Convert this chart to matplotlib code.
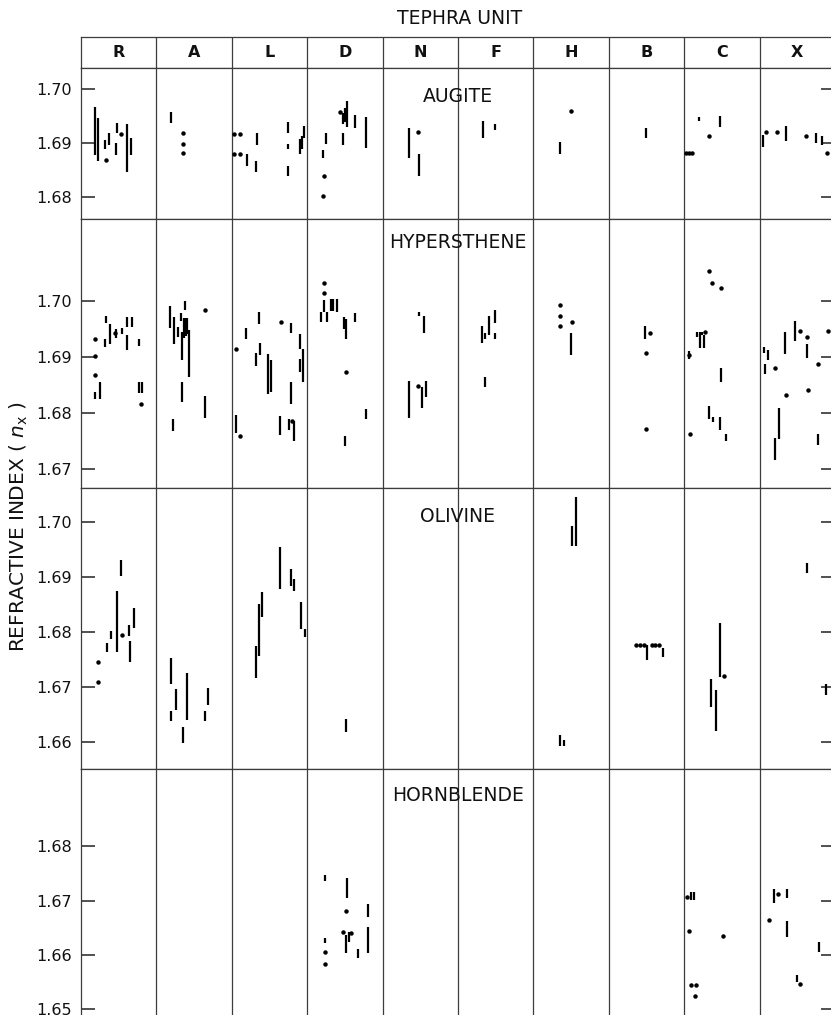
import matplotlib
matplotlib.use('Agg')
import matplotlib.pyplot as plt

# ---------------- data ----------------
units = ['R', 'A', 'L', 'D', 'N', 'F', 'H', 'B', 'C', 'X']
minerals = ['AUGITE', 'HYPERSTHENE', 'OLIVINE', 'HORNBLENDE']

# segments: (unit, position within unit column, low n_x, high n_x)
augite_seg = [
    ('R', 0.18, 1.6878, 1.6966), ('R', 0.22, 1.6866, 1.6946), ('R', 0.32, 1.6889, 1.6906),
    ('R', 0.37, 1.6897, 1.6919), ('R', 0.46, 1.6877, 1.6900), ('R', 0.48, 1.6919, 1.6937),
    ('R', 0.61, 1.6846, 1.6935), ('R', 0.66, 1.6878, 1.6909),
    ('A', 0.19, 1.6937, 1.6957),
    ('L', 0.20, 1.6858, 1.6880), ('L', 0.32, 1.6847, 1.6867), ('L', 0.34, 1.6896, 1.6918),
    ('L', 0.75, 1.6919, 1.6938), ('L', 0.75, 1.6888, 1.6898), ('L', 0.75, 1.6838, 1.6857),
    ('L', 0.90, 1.6880, 1.6907), ('L', 0.93, 1.6888, 1.6912), ('L', 0.96, 1.6909, 1.6932),
    ('D', 0.21, 1.6872, 1.6887), ('D', 0.25, 1.6898, 1.6919), ('D', 0.47, 1.6935, 1.6955),
    ('D', 0.47, 1.6896, 1.6918), ('D', 0.50, 1.6938, 1.6964), ('D', 0.53, 1.6929, 1.6977),
    ('D', 0.63, 1.6927, 1.6952), ('D', 0.78, 1.6890, 1.6949),
    ('N', 0.35, 1.6872, 1.6927), ('N', 0.48, 1.6839, 1.6880),
    ('F', 0.33, 1.6909, 1.6940), ('F', 0.49, 1.6924, 1.6936),
    ('H', 0.35, 1.6880, 1.6901),
    ('B', 0.49, 1.6910, 1.6928),
    ('C', 0.20, 1.6941, 1.6949), ('C', 0.47, 1.6930, 1.6950),
    ('X', 0.05, 1.6893, 1.6915), ('X', 0.35, 1.6904, 1.6931), ('X', 0.75, 1.6900, 1.6919),
    ('X', 0.83, 1.6896, 1.6912),
]
augite_dot = [
    ('R', 0.33, 1.6868), ('R', 0.53, 1.6917),
    ('A', 0.35, 1.6919), ('A', 0.35, 1.6899), ('A', 0.35, 1.6881),
    ('L', 0.03, 1.6916), ('L', 0.11, 1.6916), ('L', 0.03, 1.6879), ('L', 0.11, 1.6879),
    ('D', 0.22, 1.6839), ('D', 0.21, 1.6801), ('D', 0.43, 1.6958),
    ('N', 0.47, 1.6921),
    ('H', 0.50, 1.6959),
    ('C', 0.02, 1.6881), ('C', 0.06, 1.6881), ('C', 0.10, 1.6881), ('C', 0.33, 1.6912),
    ('X', 0.09, 1.6921), ('X', 0.23, 1.6921), ('X', 0.62, 1.6912), ('X', 0.90, 1.6881),
]

hypersthene_seg = [
    ('R', 0.18, 1.6826, 1.6837), ('R', 0.25, 1.6826, 1.6855), ('R', 0.32, 1.6918, 1.6931),
    ('R', 0.33, 1.6960, 1.6972), ('R', 0.39, 1.6923, 1.6959), ('R', 0.47, 1.6933, 1.6950),
    ('R', 0.54, 1.6941, 1.6951), ('R', 0.61, 1.6953, 1.6970), ('R', 0.67, 1.6953, 1.6970),
    ('R', 0.61, 1.6912, 1.6939), ('R', 0.77, 1.6919, 1.6931), ('R', 0.77, 1.6836, 1.6856),
    ('R', 0.81, 1.6836, 1.6856),
    ('A', 0.18, 1.6951, 1.6990), ('A', 0.22, 1.6768, 1.6790), ('A', 0.23, 1.6923, 1.6970),
    ('A', 0.28, 1.6935, 1.6953), ('A', 0.32, 1.6964, 1.6978), ('A', 0.34, 1.6895, 1.6944),
    ('A', 0.34, 1.6819, 1.6855), ('A', 0.36, 1.6933, 1.6969), ('A', 0.38, 1.6984, 1.7000),
    ('A', 0.39, 1.6937, 1.6969), ('A', 0.40, 1.6940, 1.6969), ('A', 0.43, 1.6864, 1.6947),
    ('A', 0.65, 1.6791, 1.6831),
    ('L', 0.06, 1.6765, 1.6797), ('L', 0.19, 1.6932, 1.6951), ('L', 0.32, 1.6883, 1.6907),
    ('L', 0.36, 1.6959, 1.6980), ('L', 0.37, 1.6903, 1.6925), ('L', 0.48, 1.6834, 1.6905),
    ('L', 0.52, 1.6837, 1.6895), ('L', 0.64, 1.6761, 1.6795), ('L', 0.76, 1.6770, 1.6790),
    ('L', 0.83, 1.6750, 1.6786), ('L', 0.78, 1.6943, 1.6960), ('L', 0.78, 1.6816, 1.6856),
    ('L', 0.91, 1.6914, 1.6941), ('L', 0.91, 1.6874, 1.6896), ('L', 0.95, 1.6855, 1.6914),
    ('D', 0.18, 1.6962, 1.6980), ('D', 0.22, 1.6980, 1.7001), ('D', 0.26, 1.6962, 1.6980),
    ('D', 0.32, 1.6982, 1.7003), ('D', 0.34, 1.6982, 1.7003), ('D', 0.40, 1.6980, 1.7002),
    ('D', 0.49, 1.6950, 1.6970), ('D', 0.51, 1.6931, 1.6967), ('D', 0.50, 1.6742, 1.6759),
    ('D', 0.64, 1.6962, 1.6978), ('D', 0.78, 1.6790, 1.6807),
    ('N', 0.35, 1.6791, 1.6858), ('N', 0.52, 1.6809, 1.6847), ('N', 0.58, 1.6829, 1.6858),
    ('N', 0.48, 1.6972, 1.6980), ('N', 0.55, 1.6942, 1.6973),
    ('F', 0.32, 1.6924, 1.6954), ('F', 0.36, 1.6931, 1.6943), ('F', 0.41, 1.6939, 1.6972),
    ('F', 0.49, 1.6961, 1.6983), ('F', 0.49, 1.6931, 1.6943), ('F', 0.36, 1.6847, 1.6865),
    ('H', 0.50, 1.6903, 1.6942),
    ('B', 0.48, 1.6932, 1.6954),
    ('C', 0.07, 1.6896, 1.6911), ('C', 0.17, 1.6935, 1.6945), ('C', 0.21, 1.6915, 1.6944),
    ('C', 0.23, 1.6938, 1.6945), ('C', 0.26, 1.6915, 1.6939), ('C', 0.49, 1.6856, 1.6880),
    ('C', 0.33, 1.6790, 1.6812), ('C', 0.38, 1.6784, 1.6793), ('C', 0.48, 1.6770, 1.6793),
    ('C', 0.55, 1.6751, 1.6763),
    ('X', 0.06, 1.6907, 1.6917), ('X', 0.11, 1.6895, 1.6913), ('X', 0.07, 1.6870, 1.6887),
    ('X', 0.34, 1.6905, 1.6944), ('X', 0.47, 1.6929, 1.6963), ('X', 0.63, 1.6898, 1.6923),
    ('X', 0.26, 1.6754, 1.6810), ('X', 0.21, 1.6717, 1.6755), ('X', 0.78, 1.6744, 1.6763),
]
hypersthene_dot = [
    ('R', 0.19, 1.6931), ('R', 0.19, 1.6902), ('R', 0.18, 1.6868), ('R', 0.45, 1.6943),
    ('R', 0.79, 1.6817),
    ('A', 0.64, 1.6983),
    ('L', 0.06, 1.6914), ('L', 0.11, 1.6760), ('L', 0.65, 1.6962), ('L', 0.80, 1.6786),
    ('D', 0.22, 1.7031), ('D', 0.22, 1.7014), ('D', 0.51, 1.6874),
    ('N', 0.47, 1.6848),
    ('H', 0.35, 1.6992), ('H', 0.35, 1.6972), ('H', 0.35, 1.6954), ('H', 0.51, 1.6962),
    ('B', 0.54, 1.6943), ('B', 0.49, 1.6906), ('B', 0.50, 1.6771),
    ('C', 0.33, 1.7052), ('C', 0.37, 1.7032), ('C', 0.49, 1.7022), ('C', 0.07, 1.6904),
    ('C', 0.27, 1.6944), ('C', 0.08, 1.6763),
    ('X', 0.21, 1.6880), ('X', 0.35, 1.6832), ('X', 0.53, 1.6946), ('X', 0.63, 1.6935),
    ('X', 0.64, 1.6841), ('X', 0.77, 1.6888), ('X', 0.91, 1.6946),
]

olivine_seg = [
    ('R', 0.35, 1.6762, 1.6780), ('R', 0.40, 1.6786, 1.6801), ('R', 0.48, 1.6763, 1.6874),
    ('R', 0.53, 1.6901, 1.6930), ('R', 0.64, 1.6792, 1.6812), ('R', 0.65, 1.6745, 1.6782),
    ('R', 0.70, 1.6806, 1.6843),
    ('A', 0.20, 1.6705, 1.6752), ('A', 0.20, 1.6638, 1.6656), ('A', 0.26, 1.6658, 1.6695),
    ('A', 0.40, 1.6639, 1.6725), ('A', 0.35, 1.6597, 1.6626), ('A', 0.64, 1.6638, 1.6656),
    ('A', 0.69, 1.6667, 1.6697),
    ('L', 0.32, 1.6715, 1.6774), ('L', 0.36, 1.6756, 1.6850), ('L', 0.40, 1.6827, 1.6872),
    ('L', 0.64, 1.6878, 1.6953), ('L', 0.78, 1.6883, 1.6914), ('L', 0.83, 1.6873, 1.6896),
    ('L', 0.92, 1.6804, 1.6853), ('L', 0.97, 1.6790, 1.6805),
    ('D', 0.52, 1.6617, 1.6641),
    ('H', 0.57, 1.6955, 1.7044), ('H', 0.51, 1.6955, 1.6991), ('H', 0.35, 1.6591, 1.6612),
    ('H', 0.41, 1.6591, 1.6602),
    ('B', 0.51, 1.6749, 1.6775), ('B', 0.72, 1.6753, 1.6770),
    ('C', 0.47, 1.6718, 1.6815), ('C', 0.36, 1.6663, 1.6714), ('C', 0.42, 1.6620, 1.6694),
    ('X', 0.63, 1.6906, 1.6924), ('X', 0.88, 1.6685, 1.6704),
]
olivine_dot = [
    ('R', 0.23, 1.6745), ('R', 0.22, 1.6708), ('R', 0.54, 1.6793),
    ('B', 0.36, 1.6775), ('B', 0.41, 1.6775), ('B', 0.47, 1.6775), ('B', 0.57, 1.6775),
    ('B', 0.61, 1.6775), ('B', 0.66, 1.6775),
    ('C', 0.53, 1.6719),
]

hornblende_seg = [
    ('D', 0.24, 1.6736, 1.6747), ('D', 0.24, 1.6622, 1.6632), ('D', 0.53, 1.6704, 1.6741),
    ('D', 0.52, 1.6604, 1.6636), ('D', 0.56, 1.6624, 1.6642), ('D', 0.67, 1.6595, 1.6611),
    ('D', 0.80, 1.6670, 1.6693), ('D', 0.81, 1.6604, 1.6651),
    ('C', 0.09, 1.6702, 1.6716), ('C', 0.13, 1.6702, 1.6716),
    ('X', 0.19, 1.6696, 1.6722), ('X', 0.36, 1.6704, 1.6722), ('X', 0.37, 1.6633, 1.6663),
    ('X', 0.79, 1.6606, 1.6624), ('X', 0.50, 1.6551, 1.6563),
]
hornblende_dot = [
    ('D', 0.24, 1.6605), ('D', 0.24, 1.6584), ('D', 0.51, 1.6681), ('D', 0.47, 1.6642),
    ('D', 0.58, 1.6641),
    ('C', 0.04, 1.6707), ('C', 0.07, 1.6644), ('C', 0.52, 1.6635), ('C', 0.09, 1.6544),
    ('C', 0.15, 1.6544), ('C', 0.14, 1.6524),
    ('X', 0.25, 1.6713), ('X', 0.12, 1.6665), ('X', 0.53, 1.6546),
]

augite_ticks = [1.68, 1.69, 1.70]
hypersthene_ticks = [1.67, 1.68, 1.69, 1.70]
olivine_ticks = [1.66, 1.67, 1.68, 1.69, 1.70]
hornblende_ticks = [1.65, 1.66, 1.67, 1.68]

# ---------------- layout ----------------
plt.rcParams['font.family'] = ['DejaVu Sans']
W, H = 831, 1015
fig = plt.figure(figsize=(W / 100, H / 100), dpi=100)
FRAME = '#3c3c3c'
LEFT, RIGHT = 81, 835


def panel_axes(top_px, bot_px):
    return fig.add_axes([LEFT / W, 1 - bot_px / H, (RIGHT - LEFT) / W, (bot_px - top_px) / H])


def frame(ax):
    ax.set_xlim(0, len(units))
    for s in ax.spines.values():
        s.set_color(FRAME)
        s.set_linewidth(0.9)
    for i in range(1, len(units)):
        ax.axvline(i, color=FRAME, lw=0.9, zorder=1)
    ax.set_xticks([])


# header
hax = panel_axes(37, 68)
frame(hax)
hax.set_ylim(0, 1)
hax.set_yticks([])
for i, u in enumerate(units):
    hax.text(i + 0.5, 0.5, u, ha='center', va='center', fontsize=11.5,
             fontweight='bold', color='#111111')
fig.text(460 / W, 1 - 19 / H, 'TEPHRA UNIT', ha='center', va='center', fontsize=13.5,
         color='#111111')

panels = [
    ('AUGITE', 68, 219, (1.6759, 1.7039), augite_ticks, augite_seg, augite_dot, 29),
    ('HYPERSTHENE', 219, 488, (1.6667, 1.7145), hypersthene_ticks, hypersthene_seg,
     hypersthene_dot, 24),
    ('OLIVINE', 488, 769, (1.6550, 1.7061), olivine_ticks, olivine_seg, olivine_dot, 29),
    ('HORNBLENDE', 769, 1030, (1.6462, 1.6942), hornblende_ticks, hornblende_seg,
     hornblende_dot, 26),
]

for name, top, bot, ylim, ticks, segs, dots, lab_off in panels:
    ax = panel_axes(top, bot)
    frame(ax)
    ax.set_ylim(*ylim)
    ax.set_yticks(ticks)
    ax.set_yticklabels(['%.2f' % t for t in ticks])
    ax.tick_params(axis='y', direction='in', length=10, width=1.1, color='#222222',
                   left=True, right=True, labelsize=11.5, pad=6.5, labelcolor='#111111')
    if segs:
        xs = [units.index(u) + p for u, p, lo, hi in segs]
        ax.vlines(xs, [s[2] for s in segs], [s[3] for s in segs], colors='black',
                  linewidth=1.6, zorder=3)
    if dots:
        xs = [units.index(u) + p for u, p, v in dots]
        ax.plot(xs, [d[2] for d in dots], 'o', color='black', markersize=3.2,
                markeredgewidth=0, zorder=3)
    ax.annotate(name, xy=(5.0, 1.0), xycoords=('data', 'axes fraction'),
                xytext=(0, -lab_off), textcoords='offset pixels', ha='center',
                va='center', fontsize=13.5, color='#111111')

fig.text(19 / W, 1 - 527 / H, r'REFRACTIVE INDEX ( $n_{\mathrm{x}}$ )', rotation=90,
         ha='center', va='center', fontsize=14.5, color='#111111')

fig.savefig('out.png', dpi=100)
